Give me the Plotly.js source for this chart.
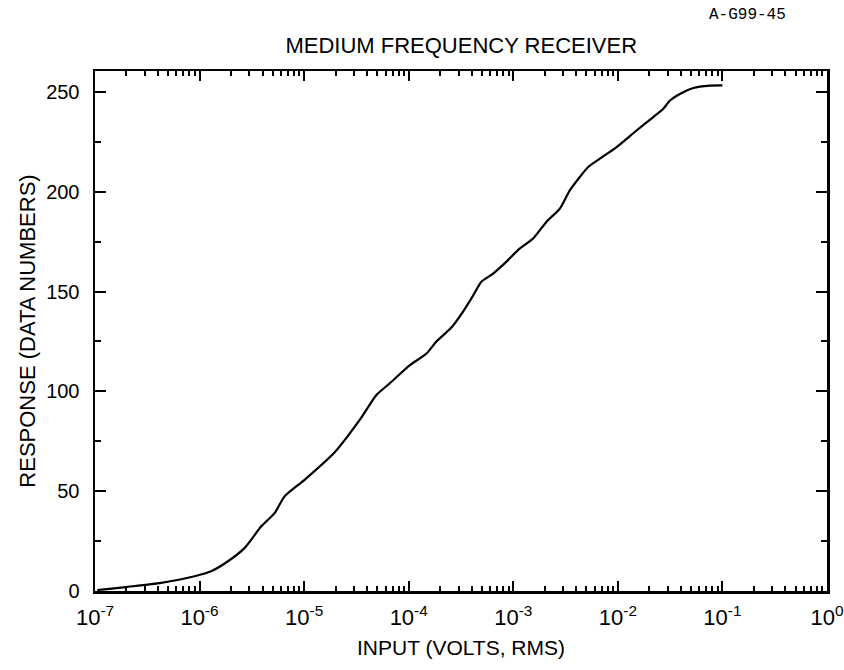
<!DOCTYPE html>
<html>
<head>
<meta charset="utf-8">
<script src="https://cdn.plot.ly/plotly-3.0.1.min.js"></script>
<style>html,body{margin:0;padding:0;background:#fff;}#chart{width:844px;height:670px;}</style>
</head>
<body>
<div id="chart"></div>
<script>
// Input voltage (volts RMS)
const inputVolts = [1.05e-7, 1.23e-7, 2.06e-7, 4.30e-7, 8.95e-7, 1.29e-6, 1.87e-6, 2.70e-6, 3.89e-6, 5.22e-6,
  6.50e-6, 1.01e-5, 1.96e-5, 3.40e-5, 4.91e-5, 6.58e-5, 1.02e-4, 1.48e-4, 1.84e-4, 2.56e-4,
  3.31e-4, 4.13e-4, 4.97e-4, 6.41e-4, 8.61e-4, 1.15e-3, 1.55e-3, 2.08e-3, 2.79e-3, 3.47e-3,
  4.33e-3, 5.20e-3, 6.73e-3, 9.73e-3, 1.51e-2, 2.18e-2, 2.72e-2, 3.15e-2, 3.92e-2, 5.26e-2,
  7.59e-2, 1.0e-1];
// Response (data numbers)
const responseDN = [0.5, 0.8, 2.1, 4.1, 7.4, 9.9, 14.9, 21.6, 32.4, 39,
  47.4, 55.7, 69.5, 85.7, 98.2, 104, 113, 119, 125, 132,
  140, 148, 155, 159, 165, 171.5, 176.6, 185, 191.6, 200.7,
  207.4, 212.4, 216.6, 222.4, 230.7, 237.4, 241.6, 245.7, 249, 252,
  253.2, 253.3];
const xTickVals = [1e-7, 1e-6, 1e-5, 1e-4, 1e-3, 1e-2, 1e-1, 1];
const xTickText = ['10<sup>-7</sup>', '10<sup>-6</sup>', '10<sup>-5</sup>', '10<sup>-4</sup>',
  '10<sup>-3</sup>', '10<sup>-2</sup>', '10<sup>-1</sup>', '10<sup>0</sup>'];
const yTickVals = [0, 50, 100, 150, 200, 250];
const chartTitle = 'MEDIUM FREQUENCY RECEIVER';
const xTitle = 'INPUT (VOLTS, RMS)';
const yTitle = 'RESPONSE (DATA NUMBERS)';
const figureId = 'A-G99-45';

const xMinor = [];
xTickVals.slice(0, -1).forEach(d => { for (let k = 2; k <= 9; k++) xMinor.push(d * k); });

const font = 'Liberation Sans, Arial, Helvetica, sans-serif';
const trace = {
  x: inputVolts, y: responseDN, type: 'scatter', mode: 'lines',
  line: {color: '#000', width: 2.2, shape: 'spline', smoothing: 0.6}, hoverinfo: 'skip'
};
const layout = {
  width: 844, height: 670,
  margin: {l: 95, r: 17, t: 71, b: 79},
  paper_bgcolor: '#fff', plot_bgcolor: '#fff',
  showlegend: false,
  font: {family: font, color: '#000', size: 20},
  title: {text: chartTitle, font: {family: font, size: 22, color: '#000'}, x: 0.5465, xanchor: 'center', y: 0.932, yanchor: 'middle'},
  xaxis: {
    type: 'log', range: [-7, 0], showgrid: false, zeroline: false,
    showline: true, linecolor: '#000', linewidth: 2.5, mirror: 'ticks',
    ticks: 'inside', ticklen: 10, tickwidth: 2, tickcolor: '#000',
    tickmode: 'array', tickvals: xTickVals, ticktext: xTickText,
    tickfont: {family: font, size: 22, color: '#000'},
    ticklabelstandoff: 5,
    minor: {ticks: 'inside', ticklen: 5, tickwidth: 2, tickcolor: '#000', tickmode: 'array', tickvals: xMinor, showgrid: false},
    title: {text: xTitle, font: {family: font, size: 21, color: '#000'}, standoff: 12}
  },
  yaxis: {
    range: [0, 260.5], showgrid: false, zeroline: false,
    showline: true, linecolor: '#000', linewidth: 2.5, mirror: 'ticks',
    ticks: 'inside', ticklen: 11, tickwidth: 2, tickcolor: '#000',
    tickmode: 'array', tickvals: yTickVals,
    tickfont: {family: font, size: 20, color: '#000'},
    ticklabelstandoff: 9,
    minor: {ticks: 'inside', ticklen: 6, tickwidth: 2, tickcolor: '#000', dtick: 25, showgrid: false},
    title: {text: yTitle, font: {family: font, size: 22, color: '#000'}, standoff: 5}
  },
  annotations: [{
    text: figureId, xref: 'paper', yref: 'paper', x: 0.892, y: 1.0, yshift: 56,
    xanchor: 'center', yanchor: 'middle', showarrow: false,
    font: {family: 'Liberation Mono, DejaVu Sans Mono, monospace', size: 16, color: '#000'}
  }]
};
Plotly.newPlot('chart', [trace], layout, {staticPlot: true, displayModeBar: false});
</script>
</body>
</html>
